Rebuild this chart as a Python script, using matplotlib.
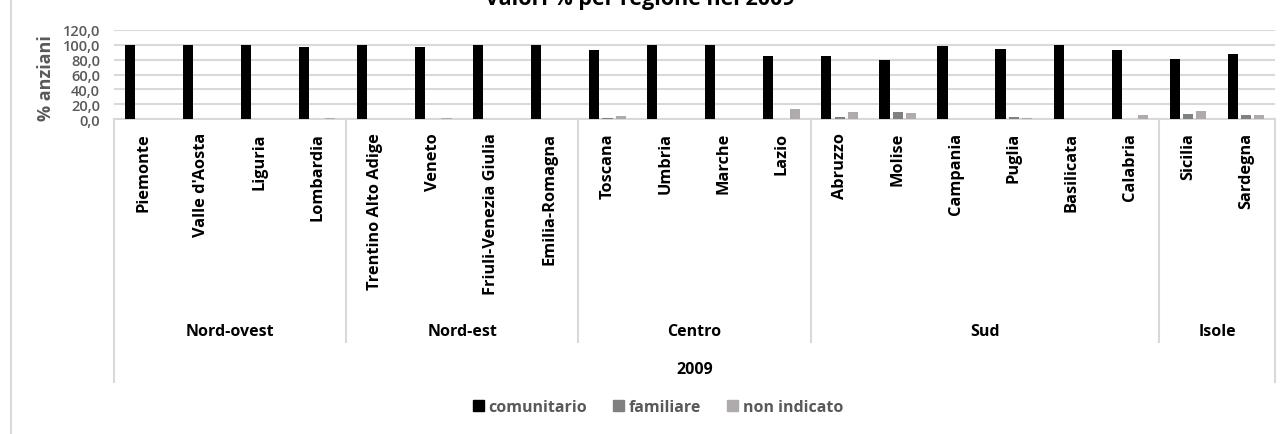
import matplotlib
matplotlib.use("Agg")
import matplotlib.pyplot as plt
import matplotlib.transforms as mtransforms
from matplotlib.lines import Line2D
from matplotlib.patches import Patch
import numpy as np

regions = ["Piemonte", "Valle d'Aosta", "Liguria", "Lombardia",
           "Trentino Alto Adige", "Veneto", "Friuli-Venezia Giulia", "Emilia-Romagna",
           "Toscana", "Umbria", "Marche", "Lazio",
           "Abruzzo", "Molise", "Campania", "Puglia", "Basilicata", "Calabria",
           "Sicilia", "Sardegna"]
groups = ["Nord-ovest", "Nord-est", "Centro", "Sud", "Isole"]
group_sizes = [4, 4, 4, 6, 2]
year = "2009"

comunitario = [100.0, 100.0, 100.0, 97.0, 100.0, 97.0, 100.0, 100.0, 93.0, 100.0,
               100.0, 85.0, 85.0, 80.0, 98.0, 94.0, 100.0, 93.0, 81.0, 88.0]
familiare = [0.0, 0.0, 0.0, 0.0, 0.0, 0.0, 0.0, 0.0, 1.5, 0.0,
             0.0, 0.0, 2.5, 9.0, 0.0, 2.5, 0.0, 0.0, 6.5, 5.0]
non_indicato = [0.0, 0.0, 0.0, 1.5, 0.0, 1.5, 0.0, 0.0, 3.5, 0.0,
                0.0, 13.0, 9.0, 7.5, 0.0, 1.5, 0.0, 5.0, 10.5, 5.0]
series_names = ["comunitario", "familiare", "non indicato"]
yticks = [0, 20, 40, 60, 80, 100, 120]

W, H = 1285, 435
fig = plt.figure(figsize=(W / 100, H / 100), dpi=100)


def fy(py):
    return 1 - py / H


def fx(px):
    return px / W


ax = fig.add_axes([fx(114), fy(120), fx(1275) - fx(114), fy(31) - fy(120)])

grid_c = "#d9d9d9"
colors = ["#000000", "#808080", "#afabab"]
x = np.arange(len(regions))
bw = 0.175
off = 0.228
for i, (vals, c) in enumerate(zip([comunitario, familiare, non_indicato], colors)):
    ax.bar(x + (i - 1) * off, vals, width=bw, color=c, zorder=3, label=series_names[i])

ax.set_xlim(-0.5, len(regions) - 0.5)
ax.set_ylim(0, 120)
ax.set_yticks(yticks)
ax.set_yticklabels([("%.1f" % v).replace(".", ",") for v in yticks])
ax.yaxis.grid(True, color=grid_c, lw=1.5, zorder=0)
ax.tick_params(axis="y", length=0, pad=10, labelsize=10.5, labelcolor="#595959")
for lab in ax.get_yticklabels():
    lab.set_fontfamily("Open Sans")
    lab.set_fontweight("semibold")
ax.set_xticks([])
for s in ["top", "right", "left"]:
    ax.spines[s].set_visible(False)
ax.spines["bottom"].set_color(grid_c)
ax.spines["bottom"].set_linewidth(1.5)

fig.text(fx(46), fy(78), "% anziani", rotation=90, ha="center", va="center",
         fontsize=13, fontweight="bold", color="#595959", family="Open Sans")

trans = mtransforms.blended_transform_factory(ax.transData, fig.transFigure)

# region labels
for i, r in enumerate(regions):
    ax.text(i, fy(133), r, rotation=90, ha="center", va="top", transform=trans,
            fontsize=11.8, fontweight="bold", family="Open Sans", color="black")

# category separators and group labels
edges = np.concatenate([[0], np.cumsum(group_sizes)]) - 0.5
for k, e in enumerate(edges):
    bottom = 383 if k in (0, len(edges) - 1) else 343
    fig.add_artist(Line2D([e, e], [fy(120), fy(bottom)], transform=trans,
                          color=grid_c, lw=1.5))
for k, g in enumerate(groups):
    mid = (edges[k] + edges[k + 1]) / 2
    ax.text(mid, fy(332), g, ha="center", va="center", transform=trans,
            fontsize=11.5, fontweight="bold", family="Open Sans", color="black")
ax.text((len(regions) - 1) / 2, fy(370), year, ha="center", va="center", transform=trans,
        fontsize=11.5, fontweight="bold", family="Open Sans", color="black")

# chart border at the left
fig.add_artist(Line2D([fx(11), fx(11)], [0, 1], transform=fig.transFigure,
                      color=grid_c, lw=1.5))

# title, partly cut by the top edge as in the original
fig.text(0.498, fy(5), "Valori % per regione nel 2009", ha="center", va="baseline",
         fontsize=15.5, fontweight="bold", family="Open Sans", color="black")

handles = [Patch(color=c, label=n) for c, n in zip(colors, series_names)]
fig.legend(handles=handles, loc="center", bbox_to_anchor=(fx(658), fy(408)), ncol=3,
           frameon=False, handlelength=0.7, handleheight=0.7, handletextpad=0.3,
           columnspacing=1.6, prop={"family": "Open Sans", "weight": "bold", "size": 11.5},
           labelcolor="#595959")

fig.savefig("out.png", dpi=100)
